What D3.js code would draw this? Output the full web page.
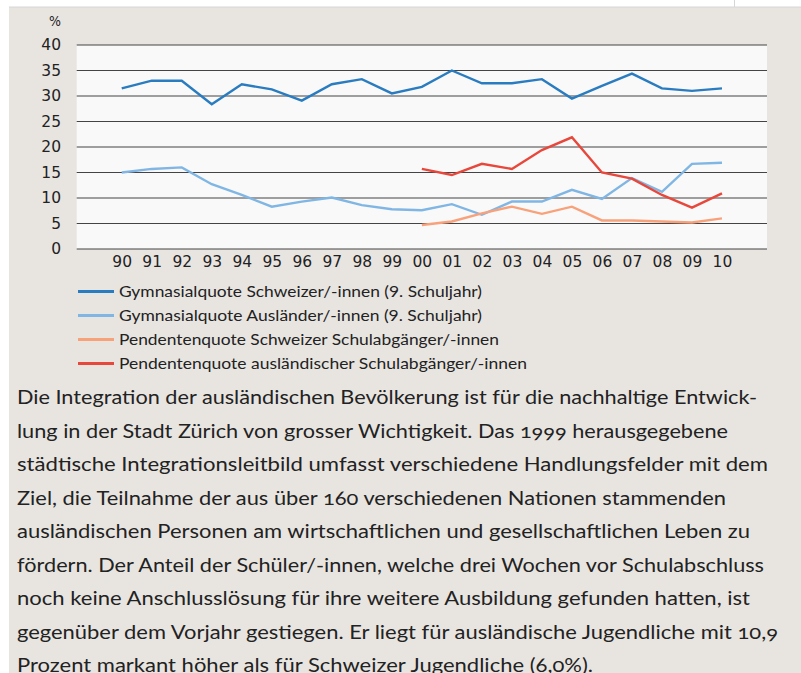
<!DOCTYPE html>
<html>
<head>
<meta charset="utf-8">
<script src="https://cdn.jsdelivr.net/npm/d3@7"></script>
<style>
html,body{margin:0;padding:0;background:#fff;}
svg{display:block;}
</style>
</head>
<body>
<svg id="chart" width="801" height="673"></svg>
<script>
const years = ["90","91","92","93","94","95","96","97","98","99","00","01","02","03","04","05","06","07","08","09","10"];
const gymSchweizer = [31.5,33.0,33.0,28.4,32.3,31.3,29.1,32.3,33.3,30.5,31.8,35.0,32.5,32.5,33.3,29.5,32.0,34.4,31.5,31.0,31.5];
const gymAuslaender = [15.0,15.7,16.0,12.7,10.6,8.3,9.3,10.1,8.6,7.8,7.6,8.8,6.7,9.3,9.3,11.6,9.8,13.9,11.2,16.7,16.9];
const pendSchweizer = [null,null,null,null,null,null,null,null,null,null,4.7,5.4,7.0,8.3,6.9,8.3,5.6,5.6,5.4,5.2,6.0];
const pendAuslaender = [null,null,null,null,null,null,null,null,null,null,15.7,14.5,16.7,15.7,19.4,21.9,15.0,13.8,10.6,8.1,10.9];
const yTicks = [0,5,10,15,20,25,30,35,40];
const seriesNames = [
  "Gymnasialquote Schweizer/-innen (9. Schuljahr)",
  "Gymnasialquote Ausländer/-innen (9. Schuljahr)",
  "Pendentenquote Schweizer Schulabgänger/-innen",
  "Pendentenquote ausländischer Schulabgänger/-innen"
];
const seriesColors = ["#2a7cc0","#80b6e4","#f8a27c","#e8473b"];
const bodyLines = [
  "Die Integration der ausländischen Bevölkerung ist für die nachhaltige Entwick-",
  "lung in der Stadt Zürich von grosser Wichtigkeit. Das 1999 herausgegebene",
  "städtische Integrationsleitbild umfasst verschiedene Handlungsfelder mit dem",
  "Ziel, die Teilnahme der aus über 160 verschiedenen Nationen stammenden",
  "ausländischen Personen am wirtschaftlichen und gesellschaftlichen Leben zu",
  "fördern. Der Anteil der Schüler/-innen, welche drei Wochen vor Schulabschluss",
  "noch keine Anschlusslösung für ihre weitere Ausbildung gefunden hatten, ist",
  "gegenüber dem Vorjahr gestiegen. Er liegt für ausländische Jugendliche mit 10,9",
  "Prozent markant höher als für Schweizer Jugendliche (6,0%)."
];
const bodyWidths = [740,711,751,709,733,747,733,761,576];
const legendWidths = [363,363,380,408];

const svg = d3.select("#chart");
// background panels
svg.append("rect").attr("x",9).attr("y",7).attr("width",792).attr("height",666).attr("fill","#e8e5e1");
svg.append("line").attr("x1",9).attr("x2",801).attr("y1",7).attr("y2",7).attr("stroke","#d6d6d6").attr("stroke-width",1);
svg.append("line").attr("x1",734.5).attr("x2",734.5).attr("y1",0).attr("y2",7).attr("stroke","#d6d6d6").attr("stroke-width",1);

const plot = {left:76.7, right:767, top:45, bottom:249};
const x = d3.scalePoint().domain(years).range([plot.left, plot.right]).padding(1.5);
const y = d3.scaleLinear().domain([0,40]).range([plot.bottom, plot.top]);

svg.append("rect").attr("x",plot.left).attr("y",plot.top)
  .attr("width",plot.right-plot.left).attr("height",plot.bottom-plot.top).attr("fill","#f9f9f9");

// gridlines
svg.append("g").selectAll("line").data(yTicks).join("line")
  .attr("x1",plot.left).attr("x2",plot.right)
  .attr("y1",d=>y(d)).attr("y2",d=>y(d))
  .attr("stroke","#444").attr("stroke-width",1.2);

// y axis labels
const yAxis = d3.axisLeft(y).tickValues(yTicks).tickSize(0).tickPadding(0);
const gy = svg.append("g").attr("transform",`translate(61,0)`).call(yAxis);
gy.select(".domain").remove();
gy.selectAll("text").attr("font-family","DejaVu Sans").attr("font-size","15.5px").attr("fill","#222");

svg.append("text").attr("x",61).attr("y",26).attr("text-anchor","end")
  .attr("font-family","DejaVu Sans Condensed, DejaVu Sans").attr("font-size","14px").attr("fill","#222").text("%");

// x axis labels
const xAxis = d3.axisBottom(x).tickSize(0).tickPadding(0);
const gx = svg.append("g").attr("transform",`translate(0,256)`).call(xAxis);
gx.select(".domain").remove();
gx.selectAll("text").attr("font-family","DejaVu Sans").attr("font-size","15.5px").attr("fill","#222");

// lines
const allSeries = [gymSchweizer, gymAuslaender, pendSchweizer, pendAuslaender];
const lineGen = d3.line().defined(d=>d.v!==null).x(d=>x(d.k)).y(d=>y(d.v));
allSeries.forEach((s,i)=>{
  const data = years.map((k,j)=>({k:k, v:s[j]}));
  svg.append("path").datum(data).attr("d",lineGen)
    .attr("fill","none").attr("stroke",seriesColors[i]).attr("stroke-width",2.4)
    .attr("stroke-linejoin","miter");
});

// legend
const lg = svg.append("g");
const legendY = [291.5,315.5,339.5,363.5];
seriesNames.forEach((n,i)=>{
  lg.append("line").attr("x1",78).attr("x2",114).attr("y1",legendY[i]).attr("y2",legendY[i])
    .attr("stroke",seriesColors[i]).attr("stroke-width",3);
  lg.append("text").attr("x",119).attr("y",legendY[i]).attr("dy","0.35em")
    .attr("font-family","Lato").attr("font-size","16px").attr("fill","#222")
    .attr("textLength",legendWidths[i]).attr("lengthAdjust","spacingAndGlyphs")
    .text(n);
});

// body text
const tb = svg.append("g");
bodyLines.forEach((t,i)=>{
  tb.append("text").attr("x",17).attr("y",404+i*33.5)
    .attr("font-family","Lato").attr("font-size","19.5px").attr("fill","#222")
    .style("font-variant-numeric","oldstyle-nums")
    .attr("textLength",bodyWidths[i]).attr("lengthAdjust","spacingAndGlyphs")
    .text(t);
});
</script>
</body>
</html>
